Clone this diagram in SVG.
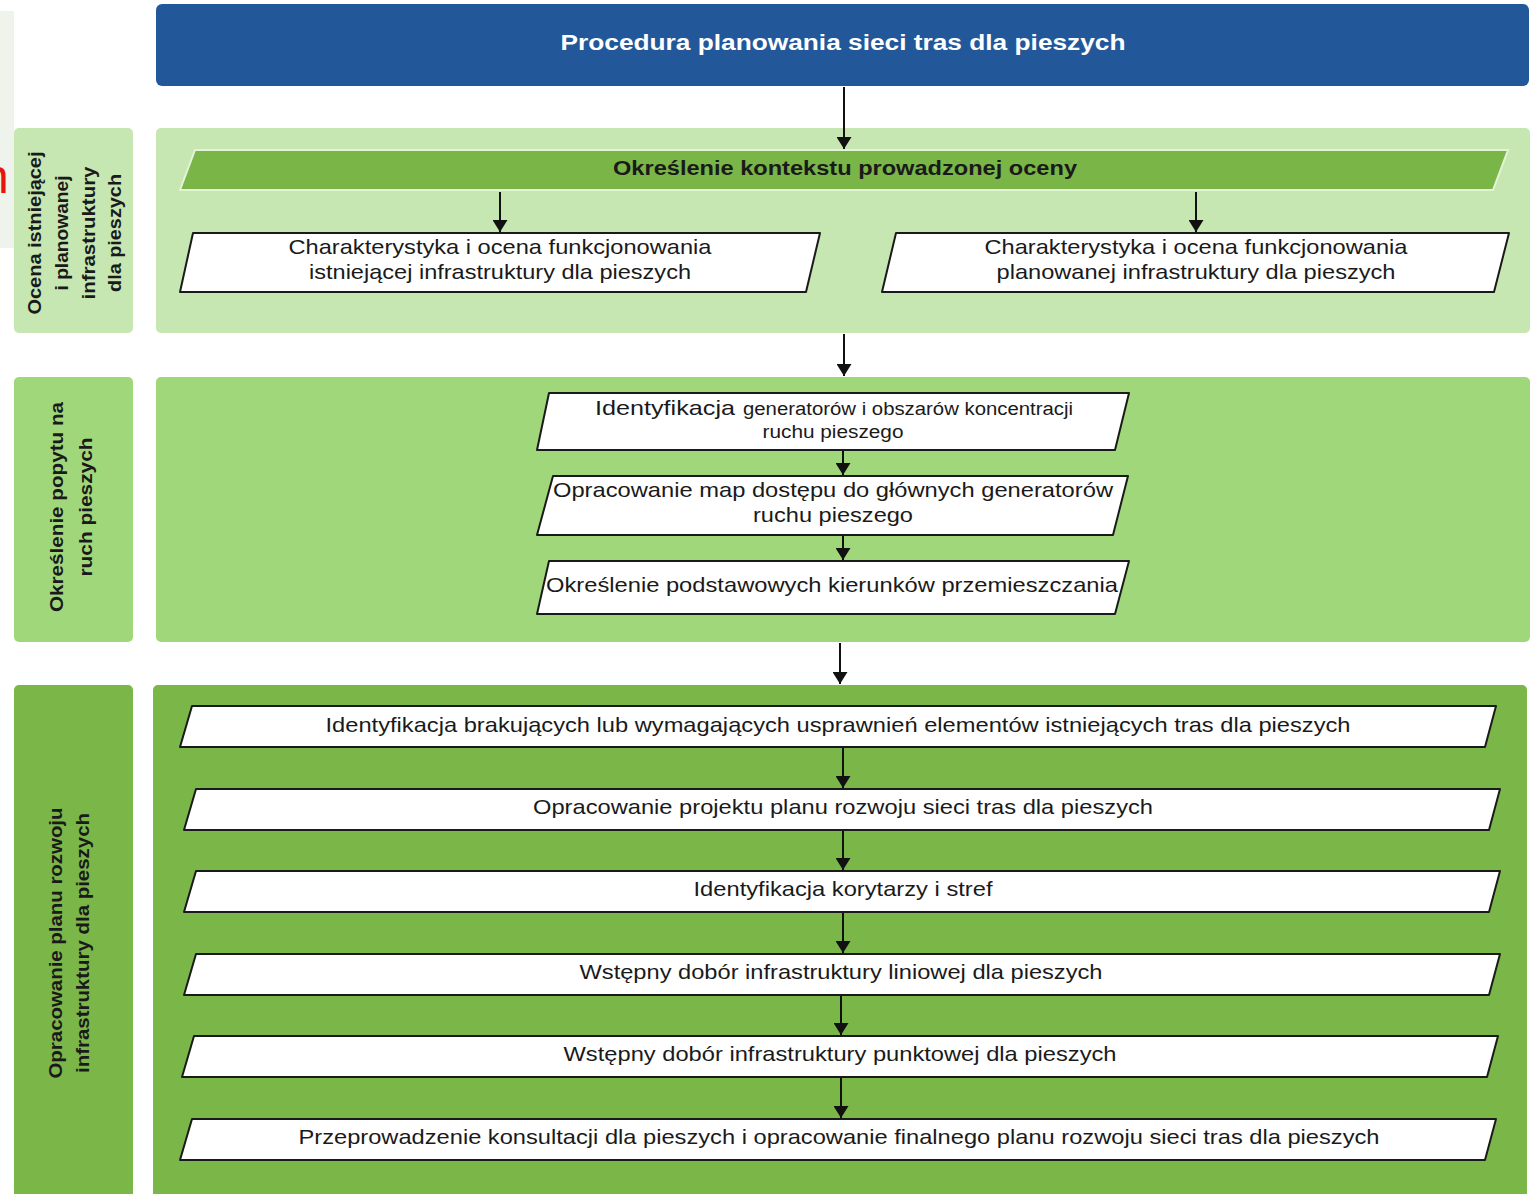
<svg xmlns="http://www.w3.org/2000/svg" width="1534" height="1194" viewBox="0 0 1534 1194">
<defs>
<style>
.t{font-family:"Liberation Sans",Arial,sans-serif;fill:#1a1a1a;text-anchor:middle}
.b{font-size:21px}
.lab{font-family:"Liberation Sans",Arial,sans-serif;fill:#1a1a1a;text-anchor:middle;font-size:19px;font-weight:bold}
.box{fill:#ffffff;stroke:#1a1a1a;stroke-width:2;stroke-linejoin:round}
.con{stroke:#111;stroke-width:2;fill:none;marker-end:url(#ah)}
</style>
<marker id="ah" viewBox="0 0 12 15" refX="12" refY="7.5" markerWidth="12" markerHeight="15" markerUnits="userSpaceOnUse" orient="auto">
<path d="M0,0 L12,7.5 L0,15 Z" fill="#111"/>
</marker>
</defs>
<rect width="1534" height="1194" fill="#ffffff"/>
<rect x="0" y="11" width="14" height="237" fill="#eef3ec"/>
<text x="-18" y="193" font-family="Liberation Sans,Arial,sans-serif" font-size="48" fill="#e8140c">n</text>

<g id="title">
<rect x="156" y="4" width="1373" height="82" rx="6" fill="#22589a"/>
<text class="t" x="843" y="50" font-size="22" font-weight="bold" style="fill:#ffffff" textLength="565" lengthAdjust="spacingAndGlyphs">Procedura planowania sieci tras dla pieszych</text>
</g>

<g id="section1">
<rect x="14" y="128" width="119" height="205" rx="5" fill="#c6e6b2"/>
<text class="lab" transform="translate(73,233) rotate(-90)"><tspan x="0" y="-32" textLength="163" lengthAdjust="spacingAndGlyphs">Ocena istniejącej</tspan><tspan x="0" y="-5" textLength="115" lengthAdjust="spacingAndGlyphs">i planowanej</tspan><tspan x="0" y="22" textLength="133" lengthAdjust="spacingAndGlyphs">infrastruktury</tspan><tspan x="0" y="48" textLength="118" lengthAdjust="spacingAndGlyphs">dla pieszych</tspan></text>
<rect x="156" y="128" width="1374" height="205" rx="5" fill="#c6e6b2"/>
</g>
<g id="s1-header">
<polygon points="195,150 1508,150 1493,190 180,190" fill="#79b547" stroke="#e4f2d6" stroke-width="2"/>
<text class="t" x="845" y="175" font-size="20" font-weight="bold" textLength="464" lengthAdjust="spacingAndGlyphs">Określenie kontekstu prowadzonej oceny</text>
</g>
<g id="s1-left">
<polygon class="box" points="193,233 820,233 806,292 180,292"/>
<text class="t b" x="500" y="254" textLength="423" lengthAdjust="spacingAndGlyphs">Charakterystyka i ocena funkcjonowania</text>
<text class="t b" x="500" y="279" textLength="382" lengthAdjust="spacingAndGlyphs">istniejącej infrastruktury dla pieszych</text>
</g>
<g id="s1-right">
<polygon class="box" points="896,233 1509,233 1494,292 882,292"/>
<text class="t b" x="1196" y="254" textLength="423" lengthAdjust="spacingAndGlyphs">Charakterystyka i ocena funkcjonowania</text>
<text class="t b" x="1196" y="279" textLength="399" lengthAdjust="spacingAndGlyphs">planowanej infrastruktury dla pieszych</text>
</g>

<g id="section2">
<rect x="14" y="377" width="119" height="265" rx="5" fill="#a1d77b"/>
<text class="lab" transform="translate(71,507) rotate(-90)"><tspan x="0" y="-8" textLength="210" lengthAdjust="spacingAndGlyphs">Określenie popytu na</tspan><tspan x="0" y="21" textLength="139" lengthAdjust="spacingAndGlyphs">ruch pieszych</tspan></text>
<rect x="156" y="377" width="1374" height="265" rx="5" fill="#a1d77b"/>
</g>
<g id="s2-a">
<polygon class="box" points="549,393 1129,393 1115,450 537,450"/>
<text x="595" y="415" font-family="Liberation Sans,Arial,sans-serif" font-size="21" fill="#1a1a1a" textLength="140" lengthAdjust="spacingAndGlyphs">Identyfikacja</text>
<text x="743" y="415" font-family="Liberation Sans,Arial,sans-serif" font-size="18" fill="#1a1a1a" textLength="330" lengthAdjust="spacingAndGlyphs">generatorów i obszarów koncentracji</text>
<text class="t" x="833" y="438" font-size="18" textLength="141" lengthAdjust="spacingAndGlyphs">ruchu pieszego</text>
</g>
<g id="s2-b">
<polygon class="box" points="553,476 1128,476 1113,535 537,535"/>
<text class="t b" x="833" y="497" textLength="560" lengthAdjust="spacingAndGlyphs">Opracowanie map dostępu do głównych generatorów</text>
<text class="t b" x="833" y="522" textLength="160" lengthAdjust="spacingAndGlyphs">ruchu pieszego</text>
</g>
<g id="s2-c">
<polygon class="box" points="549,561 1129,561 1115,614 537,614"/>
<text class="t b" x="832" y="592" textLength="572" lengthAdjust="spacingAndGlyphs">Określenie podstawowych kierunków przemieszczania</text>
</g>

<g id="section3">
<rect x="14" y="685" width="119" height="520" rx="5" fill="#7ab648"/>
<text class="lab" transform="translate(70,943) rotate(-90)"><tspan x="0" y="-8" textLength="271" lengthAdjust="spacingAndGlyphs">Opracowanie planu rozwoju</tspan><tspan x="0" y="19" textLength="260" lengthAdjust="spacingAndGlyphs">infrastruktury dla pieszych</tspan></text>
<rect x="153" y="685" width="1374" height="520" rx="5" fill="#7ab648"/>
</g>
<g id="s3-1">
<polygon class="box" points="192,706 1496,706 1485,747 180,747"/>
<text class="t b" x="838" y="732" textLength="1025" lengthAdjust="spacingAndGlyphs">Identyfikacja brakujących lub wymagających usprawnień elementów istniejących tras dla pieszych</text>
</g>
<g id="s3-2">
<polygon class="box" points="196,789 1500,789 1489,830 184,830"/>
<text class="t b" x="843" y="814" textLength="620" lengthAdjust="spacingAndGlyphs">Opracowanie projektu planu rozwoju sieci tras dla pieszych</text>
</g>
<g id="s3-3">
<polygon class="box" points="196,871 1500,871 1489,912 184,912"/>
<text class="t b" x="843" y="896" textLength="299" lengthAdjust="spacingAndGlyphs">Identyfikacja korytarzy i stref</text>
</g>
<g id="s3-4">
<polygon class="box" points="196,954 1500,954 1489,995 184,995"/>
<text class="t b" x="841" y="979" textLength="523" lengthAdjust="spacingAndGlyphs">Wstępny dobór infrastruktury liniowej dla pieszych</text>
</g>
<g id="s3-5">
<polygon class="box" points="194,1036 1498,1036 1487,1077 182,1077"/>
<text class="t b" x="840" y="1061" textLength="553" lengthAdjust="spacingAndGlyphs">Wstępny dobór infrastruktury punktowej dla pieszych</text>
</g>
<g id="s3-6">
<polygon class="box" points="192,1119 1496,1119 1485,1160 180,1160"/>
<text class="t b" x="839" y="1144" textLength="1081" lengthAdjust="spacingAndGlyphs">Przeprowadzenie konsultacji dla pieszych i opracowanie finalnego planu rozwoju sieci tras dla pieszych</text>
</g>

<g id="connectors">
<line class="con" x1="844" y1="87" x2="844" y2="149"/>
<line class="con" x1="500" y1="192" x2="500" y2="232"/>
<line class="con" x1="1196" y1="192" x2="1196" y2="232"/>
<line class="con" x1="844" y1="334" x2="844" y2="376"/>
<line class="con" x1="843" y1="451" x2="843" y2="475"/>
<line class="con" x1="843" y1="536" x2="843" y2="560"/>
<line class="con" x1="840" y1="643" x2="840" y2="684"/>
<line class="con" x1="843" y1="748" x2="843" y2="788"/>
<line class="con" x1="843" y1="831" x2="843" y2="870"/>
<line class="con" x1="843" y1="913" x2="843" y2="953"/>
<line class="con" x1="841" y1="996" x2="841" y2="1035"/>
<line class="con" x1="841" y1="1078" x2="841" y2="1118"/>
</g>
</svg>
